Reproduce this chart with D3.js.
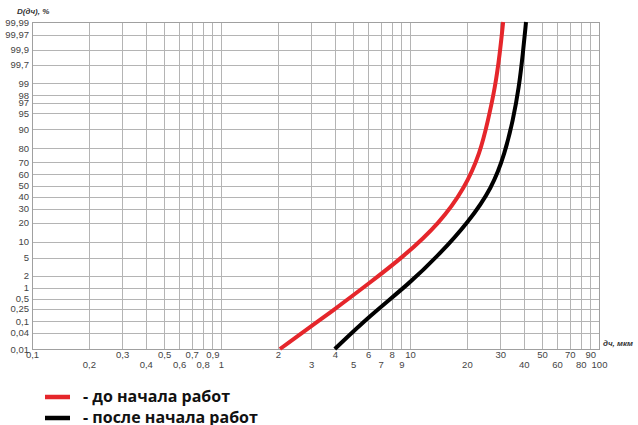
<!DOCTYPE html>
<html><head><meta charset="utf-8">
<script src="https://cdn.jsdelivr.net/npm/d3@7"></script>
<style>
body{margin:0;background:#fff;}
svg{display:block;}
.tick text{font-family:"Liberation Sans",Arial,sans-serif;fill:#444;}
</style></head>
<body><svg id="c" width="638" height="425"></svg>
<script>
// ---- data ----
const xGridValues = [0.1,0.2,0.3,0.4,0.5,0.6,0.7,0.8,0.9,1,2,3,4,5,6,7,8,9,10,20,30,40,50,60,70,80,90,100];
const xTicksUpper = [0.1,0.3,0.5,0.7,0.9,2,4,6,8,10,30,50,70,90];
const xTicksLower = [0.2,0.4,0.6,0.8,1,3,5,7,9,20,40,60,80,100];
const yTicks = [0.01,0.04,0.1,0.25,0.5,1,2,5,10,20,30,40,50,60,70,80,90,95,97,98,99,99.7,99.9,99.97,99.99];

const redX = [2.05, 4.1, 6.1, 9.2, 14.4, 19.5, 23.5, 25.9, 28.2, 29.9, 31.1];
const redP = [0.01, 0.27, 1.33, 5.2, 19.7, 47.7, 77, 93.2, 98.7, 99.87, 99.99];
const blackX = [4.0, 6.1, 10.0, 14.4, 20.3, 27.2, 31.8, 35.1, 37.7, 39.6, 41.1];
const blackP = [0.01, 0.15, 1.33, 6.0, 20, 47.7, 77, 93.2, 98.7, 99.87, 99.99];

const seriesNames = ["- до начала работ", "- после начала работ"];
const seriesColors = ["#e5262b", "#000000"];
const yTitle = "D(дч), %";
const xTitle = "дч, мкм";

// ---- helpers ----
function probit(p){
  const a=[-3.969683028665376e+01,2.209460984245205e+02,-2.759285104469687e+02,1.383577518672690e+02,-3.066479806614716e+01,2.506628277459239e+00];
  const b=[-5.447609879822406e+01,1.615858368580409e+02,-1.556989798598866e+02,6.680131188771972e+01,-1.328068155288572e+01];
  const c=[-7.784894002430293e-03,-3.223964580411365e-01,-2.400758277161838e+00,-2.549732539343734e+00,4.374664141464968e+00,2.938163982698783e+00];
  const d=[7.784695709041462e-03,3.224671290700398e-01,2.445134137142996e+00,3.754408661907416e+00];
  const pl=0.02425, ph=1-pl; let q,r;
  if(p<pl){q=Math.sqrt(-2*Math.log(p));return (((((c[0]*q+c[1])*q+c[2])*q+c[3])*q+c[4])*q+c[5])/((((d[0]*q+d[1])*q+d[2])*q+d[3])*q+1);}
  if(p<=ph){q=p-0.5;r=q*q;return (((((a[0]*r+a[1])*r+a[2])*r+a[3])*r+a[4])*r+a[5])*q/(((((b[0]*r+b[1])*r+b[2])*r+b[3])*r+b[4])*r+1);}
  q=Math.sqrt(-2*Math.log(1-p));return -(((((c[0]*q+c[1])*q+c[2])*q+c[3])*q+c[4])*q+c[5])/((((d[0]*q+d[1])*q+d[2])*q+d[3])*q+1);
}
const fmt = v => String(v).replace('.', ',');

// ---- layout ----
const L=32, R=599, T=22, B=349;
const svg = d3.select("#c");
const x = d3.scaleLog().domain([0.1,100]).range([L,R]);
const yz = d3.scaleLinear().domain([probit(0.0001), probit(0.9999)]).range([B,T]);
const y = p => yz(probit(p/100));

// grid
const g = svg.append("g");
g.selectAll("line.v").data(xGridValues).join("line")
  .attr("x1",d=>Math.round(x(d))+0.5).attr("x2",d=>Math.round(x(d))+0.5)
  .attr("y1",T).attr("y2",B).attr("stroke","#b4b4b4").attr("stroke-width",1);
g.selectAll("line.h").data(yTicks).join("line")
  .attr("x1",L).attr("x2",R)
  .attr("y1",d=>Math.round(y(d))+0.5).attr("y2",d=>Math.round(y(d))+0.5)
  .attr("stroke","#b4b4b4").attr("stroke-width",1);
// frame
svg.append("rect").attr("x",L+0.5).attr("y",T+0.5).attr("width",R-L).attr("height",B-T)
  .attr("fill","none").attr("stroke","#a0a0a0").attr("stroke-width",1);

// y axis labels
svg.append("g").selectAll("text").data(yTicks).join("text")
  .attr("x",L-3).attr("y",d=>y(d)+3.5).attr("text-anchor","end")
  .attr("font-family","Liberation Sans, Arial, sans-serif").attr("font-size",9.5).attr("fill","#444")
  .text(fmt);

// x axis labels via d3 axes
const axU = svg.append("g").attr("transform",`translate(0,${B})`)
  .call(d3.axisBottom(x).tickValues(xTicksUpper).tickFormat(fmt).tickSize(0).tickPadding(2));
const axL = svg.append("g").attr("transform",`translate(0,${B})`)
  .call(d3.axisBottom(x).tickValues(xTicksLower).tickFormat(fmt).tickSize(0).tickPadding(12));
[axU,axL].forEach(a=>{a.select(".domain").remove();a.selectAll("text").attr("font-size",9.5).attr("fill","#444");});

// titles
svg.append("text").attr("x",17).attr("y",14).attr("font-family","Liberation Sans, Arial, sans-serif")
  .attr("font-size",8).attr("font-style","italic").attr("font-weight","bold").attr("fill","#333").text(yTitle);
svg.append("text").attr("x",603).attr("y",346).attr("font-family","Liberation Sans, Arial, sans-serif")
  .attr("font-size",8).attr("font-style","italic").attr("font-weight","bold").attr("fill","#333").text(xTitle);

// curves
const line = d3.line().x(d=>x(d[0])).y(d=>y(d[1])).curve(d3.curveBasis);
const series = [d3.zip(redX,redP), d3.zip(blackX,blackP)];
svg.selectAll("path.s").data(series).join("path")
  .attr("d",line).attr("fill","none")
  .attr("stroke",(d,i)=>seriesColors[i]).attr("stroke-width",4).attr("stroke-linecap","butt");

// legend
const lg = svg.append("g");
seriesNames.forEach((n,i)=>{
  const yy = 397 + i*21;
  lg.append("line").attr("x1",45).attr("x2",70).attr("y1",yy).attr("y2",yy)
    .attr("stroke",seriesColors[i]).attr("stroke-width",4.5);
  lg.append("text").attr("x",83).attr("y",yy+4.5).attr("font-family","Open Sans, Noto Sans, sans-serif")
    .attr("font-weight","bold").attr("font-size",16).attr("fill","#111").text(n);
});
</script></body></html>
